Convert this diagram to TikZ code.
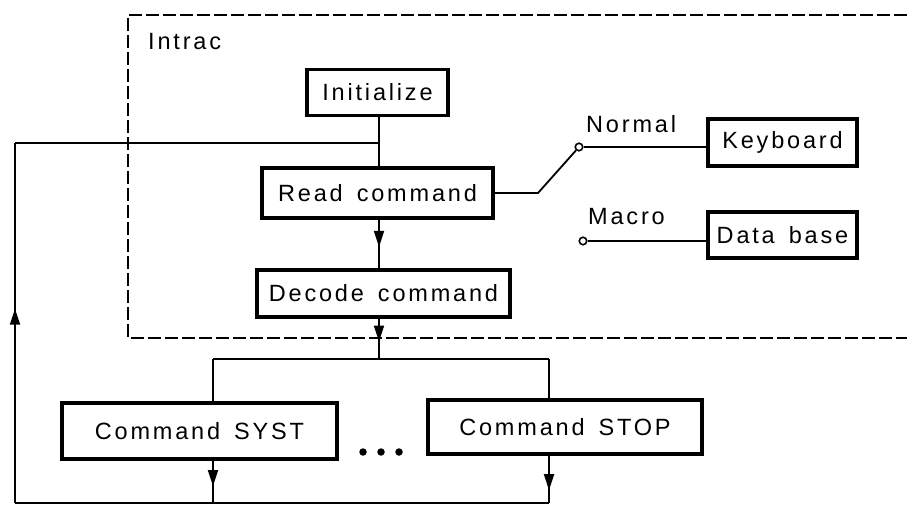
\documentclass[tikz,border=0pt]{standalone}
\usepackage{fontspec}
\setmainfont{Liberation Sans}[LetterSpace=12,WordSpace=1.5]
\usetikzlibrary{arrows.meta,decorations.markings}
\tikzset{
  blk/.style={draw, line width=3.2pt, inner sep=0pt, font=\fontsize{23.5}{26}\selectfont},
  conn/.style={line width=1.8pt},
  lbl/.style={inner sep=0pt, font=\fontsize{23.5}{26}\selectfont},
  midarrow/.style={postaction={decorate}, decoration={markings, mark=at position #1 with {\arrow{Triangle[width=10pt,length=16pt]}}}},
  term/.style={circle, draw, line width=1.6pt, inner sep=0pt, minimum size=7.5pt, fill=white},
  dotn/.style={circle, fill, inner sep=0pt, minimum size=7.5pt},
  frame/.style={line width=1.8pt, dash pattern=on 13pt off 4pt}
}
\begin{document}
\begin{tikzpicture}[x=1pt,y=-1pt]
\useasboundingbox (0,0) rectangle (907,506);
% dashed Intrac frame
\draw[frame] (907,15) -- (128,15) -- (128,338) -- (907,338);
\node[lbl, anchor=west] (intrac) at (148,42) {Intrac};
% blocks
\node[blk, minimum width=141, minimum height=46] (init) at (377.5,92.5) {Initialize};
\node[blk, minimum width=231, minimum height=50] (read) at (377.5,193) {Read command};
\node[blk, minimum width=253, minimum height=47] (dec) at (383.5,293.5) {Decode command};
\node[blk, minimum width=149, minimum height=47] (kbd) at (782.5,142.5) {Keyboard};
\node[blk, minimum width=149, minimum height=46] (db) at (782.5,235) {Data base};
\node[blk, minimum width=275, minimum height=56] (syst) at (199.5,431) {Command SYST};
\node[blk, minimum width=274, minimum height=54] (stop) at (565,427) {Command STOP};
% dots
\node[dotn] (d1) at (363,452) {};
\node[dotn] (d2) at (381,452) {};
\node[dotn] (d3) at (399,452) {};
% coordinates
\coordinate (j1) at (379,143);
\coordinate (lt) at (15,143);
\coordinate (lb) at (15,503);
\coordinate (br) at (379,359);
\coordinate (bl) at (213,359);
\coordinate (brr) at (549,359);
\coordinate (bb1) at (213,503);
\coordinate (bb2) at (549,503);
% main flow
\draw[conn] (init.south -| j1) -- (read.north -| j1);
\draw[conn] (j1) -- (lt);
\draw[conn, midarrow=0.54] (lb) -- (lt);
\draw[conn, midarrow=0.56] (read.south -| j1) -- (dec.north -| j1);
\draw[conn, midarrow=0.57] (dec.south -| j1) -- (br);
\draw[conn] (bl) -- (brr);
\draw[conn] (bl) -- (syst.north -| bl);
\draw[conn] (brr) -- (stop.north -| brr);
\draw[conn, midarrow=0.6] (syst.south -| bl) -- (bb1);
\draw[conn, midarrow=0.73] (stop.south -| brr) -- (bb2);
\draw[conn] (bb2) -- (lb);
% switch
\coordinate (kn) at (538,193);
\node[term] (sw1) at (579,147) {};
\node[term] (sw2) at (583,241) {};
\draw[conn] (read.east) -- (kn) -- (sw1);
\draw[conn] (sw1) -- (sw1 -| kbd.west);
\draw[conn] (sw2) -- (sw2 -| db.west);
\node[lbl, anchor=west] (normal) at (586,124) {Normal};
\node[lbl, anchor=west] (macro) at (588,217) {Macro};
\end{tikzpicture}
\end{document}
